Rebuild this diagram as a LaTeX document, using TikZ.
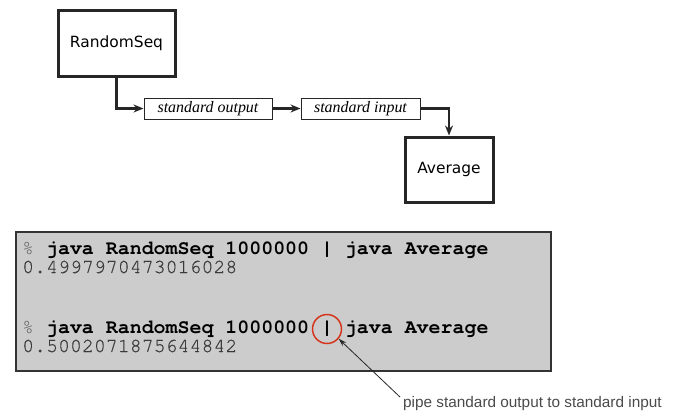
\documentclass[tikz,border=0pt]{standalone}
\usepackage{fontspec}
\setmainfont{Liberation Serif}
\newfontfamily\boxfont{DejaVu Sans}
\newfontfamily\codefont{TeX Gyre Cursor}
\newfontfamily\numfont[FakeBold=0.5]{TeX Gyre Cursor}
\newfontfamily\notefont{Liberation Sans}
\usetikzlibrary{arrows.meta,calc}
\definecolor{panelgray}{HTML}{CCCCCC}
\definecolor{framegray}{HTML}{333333}
\definecolor{numgray}{HTML}{3A3A3A}
\definecolor{pctgray}{HTML}{666666}
\definecolor{circred}{HTML}{D4351C}
\definecolor{notegray}{HTML}{4A4A4A}
\tikzset{
  progbox/.style={draw=black!85, line width=3bp, minimum width=#1, inner sep=0, font=\boxfont\fontsize{15.5}{18}\selectfont},
  streambox/.style={draw=black!85, line width=1bp, minimum height=21bp, inner sep=0, font=\itshape\fontsize{16}{19}\selectfont},
  flow/.style={line width=2.5bp, draw=black!85, -{Stealth[length=10bp,width=8bp]}},
  codeline/.style={anchor=base west, inner sep=0, font=\codefont\fontsize{20}{24}\selectfont},
  numline/.style={anchor=base west, inner sep=0, text=numgray, font=\numfont\fontsize{20}{24}\selectfont},
}
\begin{document}
\begin{tikzpicture}[x=1bp,y=-1bp]
\useasboundingbox (0,0) rectangle (682,411);
% top diagram
\node[progbox=117bp, minimum height=66bp] (rs) at (116.5,43) {RandomSeq};
\node[streambox, minimum width=128bp] (so) at (208,108.5) {standard output};
\node[streambox, minimum width=119bp] (si) at (360.5,108.5) {standard input};
\node[progbox=88bp, minimum height=65bp] (avg) at (449,169.5) {Average};
\draw[flow] (rs.south) |- (so.west);
\draw[flow] (so.east) -- (si.west);
\draw[flow] (si.east) -| (avg.north);
% terminal panel
\node[draw=framegray, fill=panelgray, line width=1.5bp, minimum width=535bp, minimum height=139bp, inner sep=0] (panel) at (283.5,301.5) {};
\node[codeline] (l1) at (22,254) {\textcolor{pctgray}{\%} \textbf{java RandomSeq 1000000 | java Average}};
\node[numline] (l2) at (22,273) {0.4997970473016028};
\node[codeline] (l3) at (22,333) {\textcolor{pctgray}{\%} \textbf{java RandomSeq 1000000 | java Average}};
\node[numline] (l4) at (22,352) {0.5002071875644842};
\node[draw=circred, line width=1.5bp, circle, minimum size=29bp, inner sep=0] (circ) at (327,329) {};
\node[anchor=base west, inner sep=0, text=notegray, font=\notefont\fontsize{15.4}{18}\selectfont] (note) at (403,407) {pipe standard output to standard input};
\coordinate (tail) at (400,397);
\draw[line width=0.8bp, draw=black!85, -{Stealth[length=8bp,width=5bp]}] (tail) -- (circ.-40);
\end{tikzpicture}
\end{document}
